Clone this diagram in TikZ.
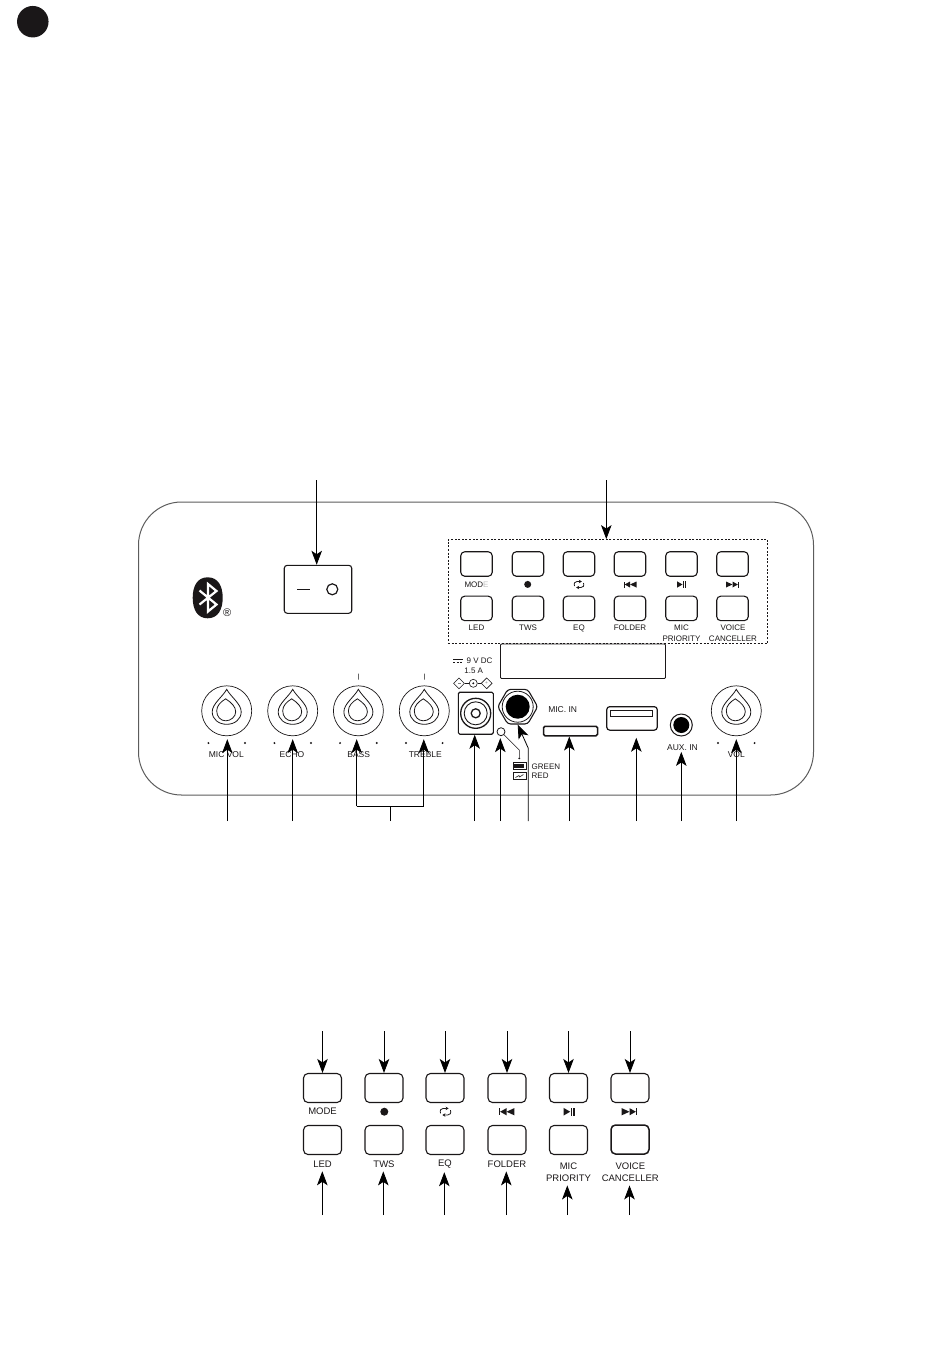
\documentclass[tikz,border=0pt]{standalone}
\usepackage{fontspec}
\setmainfont{Liberation Sans}
\usetikzlibrary{arrows.meta,shapes.geometric}
\definecolor{inkblack}{HTML}{1A1718}
\definecolor{panelgrey}{HTML}{5C5C5C}
\tikzset{
    pointer/.style={draw=black,line width=.8pt,-{Stealth[length=14pt,width=10.5pt,inset=3.5pt]}},
    plainline/.style={draw=black,line width=.8pt},
    keyboxsmall/.style={draw=inkblack,line width=1.1pt,rounded corners=4pt,minimum width=31.5pt,minimum height=24.5pt,inner sep=0pt},
    keyboxbig/.style={draw=inkblack,line width=1.1pt,rounded corners=4.5pt,minimum width=38pt,minimum height=29pt,inner sep=0pt},
    tagsmall/.style={font=\fontsize{8}{10.5}\selectfont,align=center,inner sep=1pt,text=inkblack},
    tagmid/.style={font=\fontsize{8.5}{10.5}\selectfont,align=center,inner sep=1pt,text=inkblack},
    tagbig/.style={font=\fontsize{9.5}{12}\selectfont,align=center,inner sep=2pt,outer ysep=2pt,text=inkblack},
    knobring/.style={draw=inkblack,line width=.7pt,circle,minimum size=50pt,inner sep=0pt},
    dotmark/.style={fill=inkblack,circle,minimum size=2.2pt,inner sep=0pt},
    knobdrop/.pic={
        \draw[inkblack,line width=.8pt] (0,-21.5) .. controls (4,-14) and (14.5,-7) .. (14.5,1)
            .. controls (14.5,8.5) and (8,13.5) .. (0,13.5)
            .. controls (-8,13.5) and (-14.5,8.5) .. (-14.5,1)
            .. controls (-14.5,-7) and (-4,-14) .. cycle;
        \draw[inkblack,line width=.8pt] (-1,-12) .. controls (5,-8) and (9,-4) .. (9,1)
            .. controls (9,6) and (4,10) .. (-1,10)
            .. controls (-6,10) and (-10,6) .. (-10,0)
            .. controls (-10,-5) and (-6,-9) .. cycle;
    },
    prevmark/.pic={
        \fill[inkblack] (-6.5,-3) rectangle (-5.3,3);
        \fill[inkblack] (-5.3,0) -- (0,-3) -- (0,3) -- cycle;
        \fill[inkblack] (0,0) -- (6.5,-3) -- (6.5,3) -- cycle;
    },
    nextmark/.pic={
        \fill[inkblack] (5.3,-3) rectangle (6.5,3);
        \fill[inkblack] (5.3,0) -- (0,-3) -- (0,3) -- cycle;
        \fill[inkblack] (0,0) -- (-6.5,-3) -- (-6.5,3) -- cycle;
    },
    playmark/.pic={
        \fill[inkblack] (-4.5,-3.2) -- (1,0) -- (-4.5,3.2) -- cycle;
        \fill[inkblack] (1.6,-3.2) rectangle (2.7,3.2);
        \fill[inkblack] (3.6,-3.2) rectangle (4.7,3.2);
    },
    loopmark/.pic={
        \draw[inkblack,line width=.8pt,-{Stealth[length=3pt,width=3.5pt]}] (-4.5,1.5) .. controls (-5.5,-1.5) and (-4,-3) .. (-2,-3) -- (2.8,-3);
        \draw[inkblack,line width=.8pt,-{Stealth[length=3pt,width=3.5pt]}] (4.5,-1.5) .. controls (5.5,1.5) and (4,3) .. (2,3) -- (-2.8,3);
    },
}

\begin{document}
\begin{tikzpicture}[x=1pt,y=-1pt]
    \useasboundingbox (0,0) rectangle (950,1369);

    \node (badge) [fill=inkblack,circle,minimum size=31.5pt,inner sep=0pt] at (32.8,21.7) {};

    % front panel
    \node (panel) [draw=panelgrey,line width=1pt,rounded corners=43pt,minimum width=675pt,minimum height=293pt,inner sep=0pt] at (476,648.5) {};

    % bluetooth logo
    \fill[inkblack] (207.7,577.3) .. controls (218,577.3) and (222.7,586) .. (222.7,597.8)
        .. controls (222.7,609.5) and (218,618.3) .. (207.7,618.3)
        .. controls (197.4,618.3) and (192.7,609.5) .. (192.7,597.8)
        .. controls (192.7,586) and (197.4,577.3) .. cycle;
    \draw[white,line width=2.2pt,line join=miter] (199.5,590.5) -- (216.5,604.5) -- (208,611.5) -- (208,584) -- (216.5,591) -- (199.5,604.5);
    \node (regmark) [font=\fontsize{11}{11}\selectfont,inner sep=0pt,text=inkblack] at (227.3,612.7) {®};

    % power switch
    \node (power) [draw=inkblack,line width=1.1pt,rounded corners=3pt,minimum width=67.5pt,minimum height=48pt,inner sep=0pt] at (318,589.3) {};
    \node (powerbar) [fill=inkblack,minimum width=12.5pt,minimum height=1.5pt,inner sep=0pt] at (303.7,589.3) {};
    \node (powerring) [draw=inkblack,line width=1.2pt,circle,minimum size=11pt,inner sep=0pt] at (332.3,589.3) {};

    % key field and display
    \node (keyfield) [draw=inkblack,line width=.8pt,dashed,dash pattern=on 2pt off 1.6pt,minimum width=319.5pt,minimum height=104pt,inner sep=0pt] at (607.7,591.5) {};
    \node (display) [draw=inkblack,line width=.8pt,rounded corners=1pt,minimum width=165pt,minimum height=34.5pt,inner sep=0pt] at (583,661.2) {};

    \foreach \i/\x in {1/476.5,2/528,3/579,4/630,5/681.5,6/732.5} {
        \node (upa\i) [keyboxsmall] at (\x,564) {};
        \node (upb\i) [keyboxsmall] at (\x,608.4) {};
    }
    \node (modeup) [tagsmall] at (476.5,584.5) {MOD\textcolor{black!25}{E}};
    \node (recup) [fill=inkblack,circle,minimum size=7pt,inner sep=0pt] at (527.7,584.4) {};
    \pic at (579,584.5) {loopmark};
    \pic at (630,584.5) {prevmark};
    \pic at (681.5,584.5) {playmark};
    \pic at (732.5,584.5) {nextmark};
    \foreach \n/\x/\lab in {ledup/476.5/LED,twsup/528/TWS,equp/579/EQ,folderup/630/FOLDER} {
        \node (\n) [tagsmall] at (\x,628) {\lab};
    }
    \node (micpup) [tagsmall,anchor=north] at (681.5,623.8) {MIC\\PRIORITY};
    \node (voiceup) [tagsmall,anchor=north] at (733,623.8) {VOICE\\CANCELLER};

    % knobs
    \foreach \n/\x/\lab/\lx in {micvol/226.7/MIC VOL/226.3,echo/292.7/ECHO/292,bass/358.4/BASS/358.7,treble/424.3/TREBLE/425.3,vol/736.3/VOL/736.3} {
        \node (\n) [knobring] at (\x,710.8) {};
        \pic at (\x,710.8) {knobdrop};
        \node (\n left) [dotmark] at (\x-18.3,743) {};
        \node (\n right) [dotmark] at (\x+18.3,743) {};
        \node (\n tag) [tagmid] at (\lx,754.4) {\lab};
    }
    \node (basstick) [draw=black!60,line width=.5pt,minimum width=0pt,minimum height=6pt,inner sep=0pt] at (358.6,676.5) {};
    \node (trebletick) [draw=black!60,line width=.5pt,minimum width=0pt,minimum height=6pt,inner sep=0pt] at (424.6,676.5) {};

    % power socket with rating
    \node (dctag) [tagsmall,anchor=center] at (479.5,661) {9 V DC};
    \node (amptag) [tagsmall] at (473.7,671) {1.5 A};
    \draw[inkblack,line width=.7pt] (453.4,659.8) -- (462.8,659.8);
    \draw[inkblack,line width=.7pt,dash pattern=on 2pt off 1.2pt] (453.4,662) -- (462.8,662);
    \node (minusmark) [draw=inkblack,line width=.6pt,diamond,minimum size=11pt,inner sep=0pt] at (459,683.3) {};
    \node (minuskey) [fill=black!50,minimum width=3pt,minimum height=.6pt,inner sep=0pt] at (459,683.3) {};
    \node (plugmark) [draw=inkblack,line width=.6pt,circle,minimum size=8pt,inner sep=0pt] at (473.3,683.3) {};
    \node (plugdot) [dotmark] at (473.3,683.3) {};
    \node (plusmark) [draw=inkblack,line width=.6pt,diamond,minimum size=11pt,inner sep=0pt] at (486.7,683.3) {};
    \node (pluskey) [font=\fontsize{5}{5}\selectfont,text=black!50,inner sep=0pt] at (486.7,683.3) {+};
    \draw[inkblack,line width=.6pt] (minusmark) -- (plugmark) -- (plusmark);
    \node (dcjack) [draw=inkblack,line width=1.1pt,rounded corners=1.5pt,minimum width=35pt,minimum height=42pt,inner sep=0pt] at (475.8,713.2) {};
    \node (dcouter) [draw=inkblack,line width=1.3pt,circle,minimum size=30pt,inner sep=0pt] at (475.7,713.3) {};
    \node (dcinner) [draw=inkblack,line width=.9pt,circle,minimum size=23pt,inner sep=0pt] at (475.7,713.3) {};
    \node (dchole) [draw=inkblack,line width=1.3pt,circle,minimum size=9pt,inner sep=0pt] at (475.7,713.3) {};

    % charge lamp
    \node (lamp) [draw=inkblack,line width=.8pt,circle,minimum size=8pt,inner sep=0pt] at (501,731.7) {};
    \node (lampend) [dotmark] at (519.3,758.3) {};
    \draw[inkblack,line width=.5pt] (lamp) -- (519.3,750) -- (lampend);
    \node (greenbat) [draw=inkblack,line width=.7pt,minimum width=13pt,minimum height=6.5pt,inner sep=0pt] at (519.4,766) {};
    \node (greenfill) [fill=inkblack,minimum width=10pt,minimum height=3.5pt,inner sep=0pt] at (519.4,766) {};
    \node (redbat) [draw=inkblack,line width=.7pt,minimum width=13pt,minimum height=6.5pt,inner sep=0pt] at (519.4,776) {};
    \draw[inkblack,line width=.6pt] (515.5,777.5) -- (519,775.5) -- (519.5,777) -- (523.5,774.5);
    \node (greentag) [tagsmall,anchor=west] at (530.5,766.5) {GREEN};
    \node (redtag) [tagsmall,anchor=west] at (530.5,776) {RED};

    % mic socket
    \node (micjack) [draw=inkblack,line width=1.1pt,regular polygon,regular polygon sides=6,rounded corners=3pt,minimum size=40pt,inner sep=0pt] at (517.7,706.7) {};
    \node (micring) [draw=inkblack,line width=.8pt,circle,minimum size=31pt,inner sep=0pt] at (517.7,706.7) {};
    \node (michole) [fill=black,circle,minimum size=24pt,inner sep=0pt] at (517.7,706.7) {};

    % card slot, usb and aux
    \node (mictag) [tagmid] at (562.7,710) {MIC. IN};
    \node (slot) [draw=inkblack,line width=1.5pt,rounded corners=1.5pt,minimum width=54pt,minimum height=9.5pt,inner sep=0pt] at (570.5,731) {};
    \node (usb) [draw=inkblack,line width=1.2pt,rounded corners=3pt,minimum width=50.5pt,minimum height=23.5pt,inner sep=0pt] at (632,718.4) {};
    \node (usbtongue) [draw=inkblack,line width=.8pt,minimum width=42.5pt,minimum height=6pt,inner sep=0pt] at (631.3,713.7) {};
    \node (auxring) [draw=inkblack,line width=1pt,circle,minimum size=22pt,inner sep=0pt] at (681.3,725) {};
    \node (auxhole) [fill=black,circle,minimum size=16pt,inner sep=0pt] at (681.3,725) {};
    \node (auxtag) [tagmid] at (682.5,747.7) {AUX. IN};

    % upper callouts
    \coordinate (powerfoot) at (316.7,480);
    \coordinate (fieldfoot) at (606.3,480);
    \draw[pointer] (powerfoot) -- (powerfoot |- power.north);
    \draw[pointer] (fieldfoot) -- (fieldfoot |- keyfield.north);

    % lower callouts
    \foreach \n/\x in {micvol/227.3,echo/292.7,vol/736.3} {
        \coordinate (\n foot) at (\x,821);
        \draw[pointer,shorten >=3pt] (\n foot) -- (\n foot |- \n.south);
    }
    \coordinate (tonefoot) at (390.3,821);
    \coordinate (tonejoin) at (390.3,806.3);
    \coordinate (bassjoin) at (356.7,806.3);
    \coordinate (treblejoin) at (423.8,806.3);
    \draw[plainline] (tonefoot) -- (tonejoin);
    \draw[plainline] (bassjoin) -- (treblejoin);
    \draw[pointer,shorten >=3pt] (bassjoin) -- (bassjoin |- bass.south);
    \draw[pointer,shorten >=3pt] (treblejoin) -- (treblejoin |- treble.south);

    \coordinate (dcfoot) at (474.7,821);
    \coordinate (lampfoot) at (500.3,821);
    \coordinate (micfoot) at (528.3,821);
    \coordinate (micbend) at (528.3,748.3);
    \coordinate (slotfoot) at (569.3,821);
    \coordinate (usbfoot) at (636.3,821);
    \coordinate (auxfoot) at (681.3,821);
    \draw[pointer] (dcfoot) -- (dcfoot |- dcjack.south);
    \draw[pointer,shorten >=2pt] (lampfoot) -- (lampfoot |- lamp.south);
    \draw[pointer] (micfoot) -- (micbend) -- (micjack.south);
    \draw[pointer] (slotfoot) -- (slotfoot |- slot.south);
    \draw[pointer,shorten >=7pt] (usbfoot) -- (usbfoot |- usb.south);
    \draw[pointer] (auxfoot) -- (auxfoot |- auxtag.south);

    % enlarged keys
    \foreach \i/\x/\ax in {1/322.5/322.5,2/384/384,3/445/445,4/507/507,5/568.5/568.5,6/630/630} {
        \node (biga\i) [keyboxbig] at (\x,1088) {};
        \coordinate (topfoot\i) at (\ax,1031);
        \draw[pointer] (topfoot\i) -- (topfoot\i |- biga\i.north);
    }
    \node (modebig) [tagbig] at (322.5,1111.7) {MODE};
    \node (recbig) [fill=inkblack,circle,minimum size=8pt,inner sep=0pt] at (384.3,1111.7) {};
    \pic[scale=1.1] at (445.5,1111.7) {loopmark};
    \pic[scale=1.2] at (506.5,1111.7) {prevmark};
    \pic[scale=1.2] at (569,1111.7) {playmark};
    \pic[scale=1.2] at (629.5,1111.7) {nextmark};

    \foreach \i/\x/\ax/\lab in {1/322.5/322.3/LED,2/384/383.3/TWS,3/445/444.3/EQ,4/507/506.3/FOLDER} {
        \node (bigb\i) [keyboxbig] at (\x,1140) {};
        \node (bigtag\i) [tagbig] at (\x,1164) {\lab};
        \coordinate (lowfoot\i) at (\ax,1215);
        \draw[pointer] (lowfoot\i) -- (lowfoot\i |- bigtag\i.south);
    }
    \node (bigb5) [keyboxbig] at (568.5,1140) {};
    \node (bigb6) [keyboxbig,line width=1.5pt] at (630,1139.5) {};
    \node (bigtag5) [tagbig,anchor=north] at (568.5,1158.7) {MIC\\PRIORITY};
    \node (bigtag6) [tagbig,anchor=north] at (630.3,1158.7) {VOICE\\CANCELLER};
    \coordinate (lowfoot5) at (567.3,1215);
    \coordinate (lowfoot6) at (629.5,1215);
    \draw[pointer] (lowfoot5) -- (lowfoot5 |- bigtag5.south);
    \draw[pointer] (lowfoot6) -- (lowfoot6 |- bigtag6.south);
\end{tikzpicture}
\end{document}
